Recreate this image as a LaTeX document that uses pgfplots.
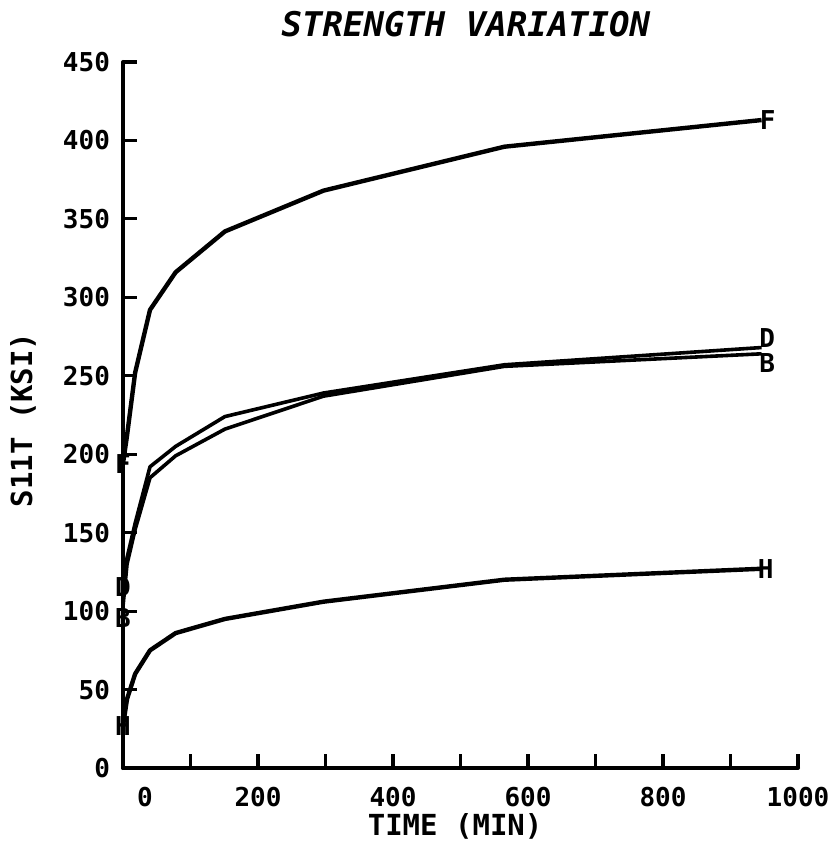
\documentclass[border=0pt]{standalone}
\usepackage{pgfplots}
\pgfplotsset{compat=1.18}
\usepackage{fontspec}
\setmainfont{DejaVu Sans Mono}
\tikzset{mk/.style={font=\fontsize{13}{13}\selectfont\bfseries, inner sep=0pt}}
\begin{document}
\begin{tikzpicture}
\begin{axis}[
 scale only axis, width=337.5pt, height=353pt,
 xmin=0, xmax=1000, ymin=0, ymax=450,
 axis lines*=left,
 axis line style={line width=2pt, line cap=round, black},
 tick align=inside, xtick pos=left, ytick pos=left,
 major tick length=7pt,
 tick style={line width=1.6pt, black},
 xtick={0,100,...,1000},
 xticklabels={\hspace*{22pt}0,,200,,400,,600,,800,,1000},
 ytick={0,50,...,450},
 /pgf/number format/assume math mode=true,
 ticklabel style={font=\fontsize{13}{13}\selectfont\bfseries},
 xticklabel style={yshift=-6pt},
 yticklabel style={xshift=-3pt},
 xlabel={TIME (MIN)}, ylabel={S11T (KSI)}, title={STRENGTH VARIATION},
 label style={font=\fontsize{14.5}{15}\selectfont\bfseries},
 xlabel style={at={(axis description cs:0.492,0)}, anchor=north, yshift=-19pt},
 ylabel style={at={(axis description cs:-0.148,0.493)}, anchor=center},
 title style={at={(axis description cs:0.508,1.036)}, anchor=center, font=\fontsize{17}{17}\selectfont\bfseries\itshape},
 clip=false,
 cycle list={{black, no markers}},
 every axis plot/.append style={black, line width=2.2pt, line join=round},
]
% F
\addplot coordinates {(0,194) (6,212) (18,252) (40,292) (78,316) (151,342) (297,368) (565,396) (946,413)}
  node[pos=0, mk, anchor=center] {F}
  node[pos=1, mk, anchor=west, xshift=-2pt] {F};
% D (upper middle)
\addplot[line width=1.8pt] coordinates {(0,108) (6,134) (18,156) (40,192) (78,205) (151,224) (297,239) (565,257) (946,268)}
  node[pos=0, mk, anchor=south] {D}
  node[pos=1, mk, anchor=south west, xshift=-2pt, yshift=-1pt] {D};
% B (lower middle)
\addplot[line width=1.8pt] coordinates {(0,103) (6,130) (18,152) (40,185) (78,199) (151,216) (297,237) (565,256) (946,264)}
  node[pos=0, mk, anchor=north] {B}
  node[pos=1, mk, anchor=north west, xshift=-2pt, yshift=1pt] {B};
% H
\addplot coordinates {(0,27) (6,44) (18,60) (40,75) (78,86) (151,95) (297,106) (565,120) (946,127)}
  node[pos=0, mk, anchor=center] {H}
  node[pos=1, mk, anchor=west, xshift=-3pt] {H};
\end{axis}
\path ([shift={(-61.5pt,-46.5pt)}]current axis.south west) rectangle ++(414pt,430.5pt);
\end{tikzpicture}
\end{document}
